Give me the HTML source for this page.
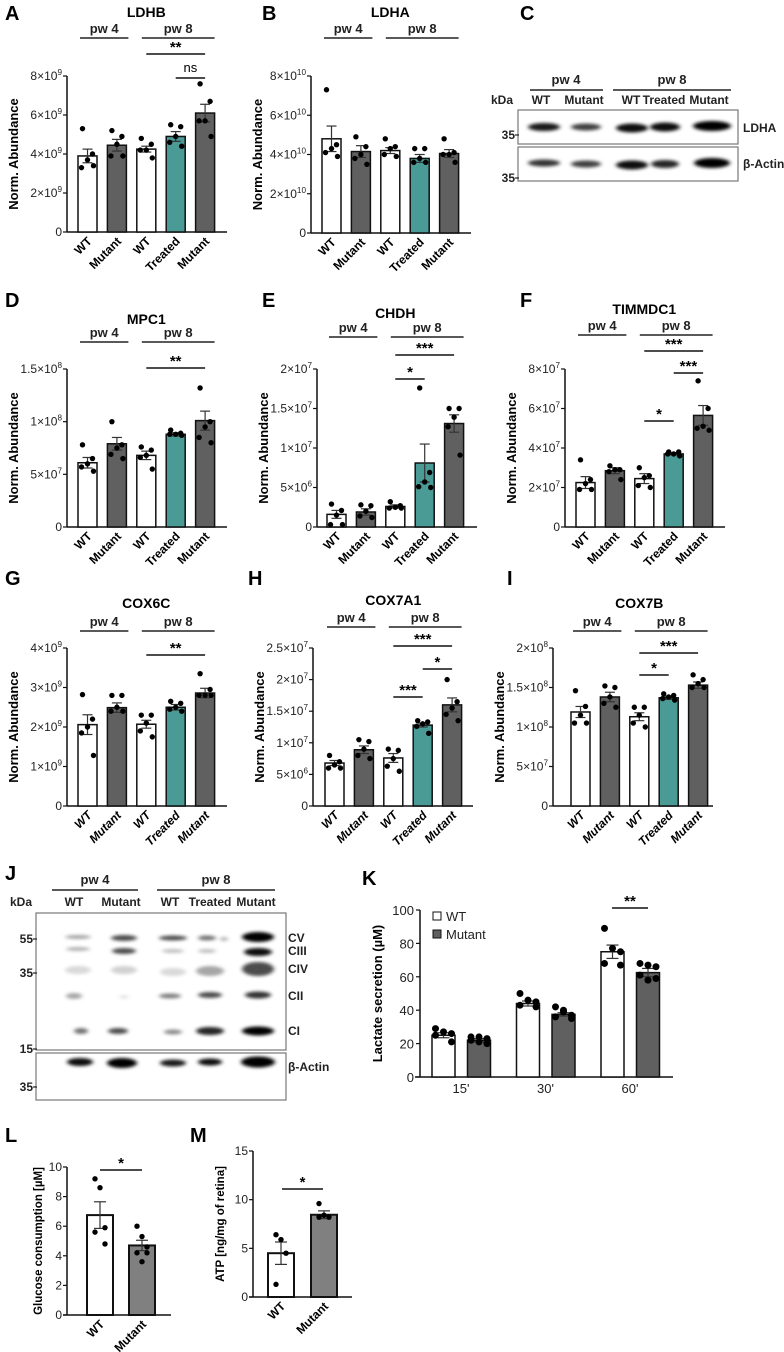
<!DOCTYPE html>
<html><head><meta charset="utf-8"><style>
html,body{margin:0;padding:0;background:#fff}
svg{display:block;font-family:"Liberation Sans",Arial,sans-serif}
</style></head><body>
<svg id="fig" width="784" height="1352" viewBox="0 0 784 1352" xmlns="http://www.w3.org/2000/svg">
<defs>
<filter id="blur1" x="-50%" y="-100%" width="200%" height="300%"><feGaussianBlur stdDeviation="2.2 1.6"/></filter>
</defs>
</svg>
<script>
// ---------- DATA ----------
const groupCats = ["WT","Mutant","WT","Treated","Mutant"];
const groupFills = ["#fff","#606060","#fff","#4a9a96","#606060"];

const meanA=[3.9,4.45,4.25,4.9,6.1], errA=[0.35,0.3,0.15,0.25,0.45];
const ptsA=[[5.3,4.0,3.7,3.3,3.4],[5.2,4.9,4.5,3.9,3.9],[4.8,4.5,4.2,4.2,3.8],[5.5,5.4,4.9,4.6,4.4],[7.6,6.7,5.7,5.7,4.9]];
const ticksA=[0,2,4,6,8], tickLabA=["0","2×10^9","4×10^9","6×10^9","8×10^9"];

const meanB=[4.8,4.15,4.2,3.8,4.05], errB=[0.65,0.3,0.15,0.2,0.2];
const ptsB=[[7.3,4.5,4.3,4.1,3.9],[4.9,4.4,4.0,3.8,3.5],[4.8,4.4,4.3,4.0,3.9],[4.3,4.3,3.8,3.6,3.6],[4.8,4.1,4.0,4.0,3.6]];
const ticksB=[0,2,4,6,8], tickLabB=["0","2×10^10","4×10^10","6×10^10","8×10^10"];

const meanD=[6.1,7.9,6.8,8.8,10.1], errD=[0.5,0.6,0.4,0.15,0.9];
const ptsD=[[7.8,6.5,6.0,5.7,5.3],[10.0,7.8,7.5,6.9,6.5],[7.6,7.3,6.8,6.6,5.5],[9.2,8.9,8.8,8.8,8.7],[13.2,10.0,9.5,8.5,8.0]];
const ticksD=[0,5,10,15], tickLabD=["0","5×10^7","1×10^8","1.5×10^8"];

const meanE=[1.6,1.9,2.6,8.1,13.1], errE=[0.5,0.4,0.2,2.4,1.1];
const ptsE=[[2.9,2.1,1.5,0.3,0.3],[2.8,2.7,2.0,1.4,1.2],[3.2,2.7,2.5,2.4,2.4],[17.6,6.9,5.7,5.1,5.0],[15.0,15.0,13.9,12.7,9.1]];
const ticksE=[0,5,10,15,20], tickLabE=["0","5×10^6","1×10^7","1.5×10^7","2×10^7"];

const meanF=[2.25,2.85,2.45,3.7,5.65], errF=[0.3,0.15,0.25,0.05,0.5];
const ptsF=[[3.4,2.4,2.2,1.9,1.9],[3.1,2.9,2.9,2.8,2.4],[3.0,2.6,2.5,2.1,2.0],[3.8,3.8,3.7,3.7,3.6],[7.4,6.0,5.1,5.0,4.9]];
const ticksF=[0,2,4,6,8], tickLabF=["0","2×10^7","4×10^7","6×10^7","8×10^7"];

const meanG=[2.06,2.49,2.07,2.5,2.86], errG=[0.25,0.12,0.1,0.07,0.12];
const ptsG=[[2.82,2.2,2.0,1.85,1.28],[2.8,2.8,2.5,2.4,2.4],[2.3,2.3,2.1,1.9,1.75],[2.65,2.6,2.5,2.45,2.4],[3.35,2.95,2.8,2.8,2.8]];
const ticksG=[0,1,2,3,4], tickLabG=["0","1×10^9","2×10^9","3×10^9","4×10^9"];

const meanH=[6.8,8.9,7.6,12.8,16.0], errH=[0.4,0.6,0.7,0.3,1.1];
const ptsH=[[8.0,7.0,6.5,6.0,6.0],[10.5,10.2,9.0,8.0,7.5],[9.0,8.8,7.5,6.3,5.5],[13.5,13.3,13.0,12.6,11.5],[20,16.5,15.5,14.5,13.5]];
const ticksH=[0,5,10,15,20,25], tickLabH=["0","5×10^6","1×10^7","1.5×10^7","2×10^7","2.5×10^7"];

const meanI=[11.9,13.8,11.3,13.7,15.3], errI=[0.7,0.6,0.5,0.2,0.4];
const ptsI=[[14.6,12.6,11.5,10.5,10.5],[15.2,15.0,13.8,13.0,12.5],[12.5,12.5,11.5,10.5,10.0],[14.2,14.0,13.8,13.6,13.4],[16.6,16.0,15.5,15.0,15.0]];
const ticksI=[0,5,10,15,20], tickLabI=["0","5×10^7","1×10^8","1.5×10^8","2×10^8"];

const kTimes=["15'","30'","60'"];
const kWT=[25,44,75], kWTerr=[1.5,1.5,4];
const kMut=[22,37.5,62.5], kMuterr=[1,1,2.5];
const kWTpts=[[29,27,26,25,21],[50,46,45,43,42],[89,77,75,68,67]];
const kMutpts=[[24,24,23,22,20,21],[42,40,37,36,35,39],[68,67,66,61,59,58]];
const kTicks=[0,20,40,60,80,100];

const lCats=["WT","Mutant"], lMean=[6.75,4.7], lErr=[0.9,0.35];
const lPts=[[9.2,8.6,5.9,5.6,4.8],[6.0,5.3,4.6,4.2,4.2,3.6]];
const lTicks=[0,2,4,6,8,10];
const mCats=["WT","Mutant"], mMean=[4.5,8.45], mErr=[1.15,0.4];
const mPts=[[6.4,5.9,4.5,1.3],[9.6,8.4,8.2,8.2]];
const mTicks=[0,5,10,15];

// ---------- HELPERS ----------
const svg=document.getElementById('fig');
const NS="http://www.w3.org/2000/svg";
function mk(tag,attrs,parent){const e=document.createElementNS(NS,tag);for(const k in attrs)e.setAttribute(k,attrs[k]);(parent||svg).appendChild(e);return e;}
function txt(s,x,y,attrs,parent){const e=mk('text',Object.assign({x:x,y:y},attrs||{}),parent);e.textContent=s;return e;}
function supText(s,x,y,size,parent){
  const e=mk('text',{x:x,y:y,'text-anchor':'end','font-size':size,fill:'#222'},parent);
  const parts=s.split('^');
  const t1=mk('tspan',{},e);t1.textContent=parts[0];
  if(parts[1]){const t2=mk('tspan',{dy:-5,'font-size':size*0.68},e);t2.textContent=parts[1];}
  return e;
}
const jit=[-5,5,0,-6,6,0];

function barPanel(c){
  const g=mk('g',{});
  
  
  const max=c.ticks[c.ticks.length-1];
  const Y=v=>c.y0-v/max*(c.y0-c.yTop);
  const step=29.4,bw=19;
  const X=i=>c.b0+i*step;
  const t=txt(c.title,X(2)+bw/2,c.titleY,{'text-anchor':'middle','font-weight':'bold','font-size':14},g);
  
  txt('pw 4',(X(0)+X(1)+bw+4)/2,c.lineY-5,{'text-anchor':'middle','font-size':13,'font-weight':'bold','fill':'#222'},g);
  txt('pw 8',(X(2)+5+X(4)+bw)/2,c.lineY-5,{'text-anchor':'middle','font-size':13,'font-weight':'bold','fill':'#222'},g);
  mk('line',{x1:X(0)+2,x2:X(1)+bw+2,y1:c.lineY,y2:c.lineY,stroke:'#222','stroke-width':1.5},g);
  mk('line',{x1:X(2)+5,x2:X(4)+bw,y1:c.lineY,y2:c.lineY,stroke:'#222','stroke-width':1.5},g);
  mk('line',{x1:c.ax,x2:c.ax,y1:c.yTop,y2:c.y0,stroke:'#111','stroke-width':1.5},g);
  mk('line',{x1:c.ax,x2:c.ax+160,y1:c.y0,y2:c.y0,stroke:'#111','stroke-width':1.5},g);
  c.ticks.forEach((tv,i)=>{
    mk('line',{x1:c.ax-4,x2:c.ax,y1:Y(tv),y2:Y(tv),stroke:'#111','stroke-width':1.2},g);
    const l=supText(c.tickLab[i],c.ax-5,Y(tv)+4,12,g);
    
  });
  const yl=txt('Norm. Abundance',0,0,{'text-anchor':'middle','font-weight':'bold','font-size':13,transform:`translate(${c.ax-49},${(c.y0+c.yTop)/2}) rotate(-90)`},g);
  
  c.mean.forEach((m,i)=>{
    const r=mk('rect',{x:X(i),y:Y(m),width:bw,height:c.y0-Y(m),fill:groupFills[i],stroke:'#111','stroke-width':1.5},g);
    
    
    const cx=X(i)+bw/2;
    mk('line',{x1:cx,x2:cx,y1:Y(m+c.err[i]),y2:Y(m-c.err[i]),stroke:'#333','stroke-width':1.2},g);
    mk('line',{x1:cx-5,x2:cx+5,y1:Y(m+c.err[i]),y2:Y(m+c.err[i]),stroke:'#333','stroke-width':1.2},g);
    mk('line',{x1:cx-5,x2:cx+5,y1:Y(m-c.err[i]),y2:Y(m-c.err[i]),stroke:'#333','stroke-width':1.2},g);
    c.pts[i].forEach((p,j)=>{
      const d=mk('circle',{cx:cx+jit[j],cy:Y(p),r:2.7,fill:'#000'},g);
      
      
    });
    const xl=txt(groupCats[i],0,0,{'text-anchor':'end','font-weight':'bold','font-size':12,'font-style':c.italic?'italic':'normal',transform:`translate(${cx+5},${c.y0+10}) rotate(-45)`},g);
    
  });
  (c.sig||[]).forEach(s=>{
    const x1=X(s[0])+bw/2,x2=X(s[1])+bw/2;
    mk('line',{x1:x1,x2:x2,y1:s[2],y2:s[2],stroke:'#111','stroke-width':1.5},g);
    txt(s[3],(x1+x2)/2,s[3]=='ns'?s[2]-6:s[2]-2,{'text-anchor':'middle','font-size':s[3]=='ns'?13:15,'font-weight':s[3]=='ns'?'normal':'bold'},g);
  });
  txt(c.letter,c.lx,c.ly,{'font-weight':'bold','font-size':20},g);
}

barPanel({name:'ldhb',letter:'A',lx:5,ly:20,title:'LDHB',titleY:17,lineY:38,ax:67,b0:78,y0:232,yTop:76,ticks:ticksA,tickLab:tickLabA,mean:meanA,err:errA,pts:ptsA,sig:[[2,4,54,'**'],[3,4,78,'ns']]});
barPanel({name:'ldha',letter:'B',lx:262,ly:20,title:'LDHA',titleY:17,lineY:38,ax:311,b0:322,y0:233,yTop:76,ticks:ticksB,tickLab:tickLabB,mean:meanB,err:errB,pts:ptsB});
barPanel({name:'mpc1',letter:'D',lx:5,ly:307,title:'MPC1',titleY:324,lineY:342,ax:67,b0:78,y0:527,yTop:369,ticks:ticksD,tickLab:tickLabD,mean:meanD,err:errD,pts:ptsD,sig:[[2,4,368,'**']]});
barPanel({name:'chdh',letter:'E',lx:262,ly:307,title:'CHDH',titleY:318,lineY:337,ax:317,b0:327,y0:527,yTop:369,ticks:ticksE,tickLab:tickLabE,mean:meanE,err:errE,pts:ptsE,sig:[[2,4,355,'***'],[2,3,379,'*']]});
barPanel({name:'timmdc1',letter:'F',lx:520,ly:307,title:'TIMMDC1',titleY:314,lineY:335,ax:565,b0:576,y0:527,yTop:369,ticks:ticksF,tickLab:tickLabF,mean:meanF,err:errF,pts:ptsF,sig:[[2,4,351,'***'],[3,4,373,'***'],[2,3,421,'*']]});
barPanel({name:'cox6c',letter:'G',lx:5,ly:585,title:'COX6C',titleY:608,lineY:631,ax:67,b0:78,y0:806,yTop:648,ticks:ticksG,tickLab:tickLabG,mean:meanG,err:errG,pts:ptsG,italic:true,sig:[[2,4,655,'**']]});
barPanel({name:'cox7a1',letter:'H',lx:248,ly:585,title:'COX7A1',titleY:605,lineY:627,ax:313,b0:325,y0:806,yTop:648,ticks:ticksH,tickLab:tickLabH,mean:meanH,err:errH,pts:ptsH,italic:true,sig:[[2,4,646,'***'],[3,4,669,'*'],[2,3,697,'***']]});
barPanel({name:'cox7b',letter:'I',lx:507,ly:585,title:'COX7B',titleY:608,lineY:631,ax:553,b0:571,y0:806,yTop:648,ticks:ticksI,tickLab:tickLabI,mean:meanI,err:errI,pts:ptsI,italic:true,sig:[[2,4,653,'***'],[2,3,675,'*']]});

// ---------- WESTERN BLOTS ----------
function blot(c){
  const g=mk('g',{});
  
  
  txt(c.letter,c.lx,c.ly,{'font-weight':'bold','font-size':20},g);
  txt('pw 4',c.pw4[2],c.pwY-6,{'text-anchor':'middle','font-size':13,'font-weight':'bold','fill':'#222'},g);
  txt('pw 8',c.pw8[2],c.pwY-6,{'text-anchor':'middle','font-size':13,'font-weight':'bold','fill':'#222'},g);
  mk('line',{x1:c.pw4[0],x2:c.pw4[1],y1:c.pwY,y2:c.pwY,stroke:'#222','stroke-width':1.5},g);
  mk('line',{x1:c.pw8[0],x2:c.pw8[1],y1:c.pwY,y2:c.pwY,stroke:'#222','stroke-width':1.5},g);
  txt('kDa',c.kx,c.laneY,{'font-size':12,'font-weight':'bold','fill':'#222'},g);
  c.lanes.forEach((l,i)=>txt(l,c.laneX[i],c.laneY,{'text-anchor':'middle','font-size':12,'font-weight':'bold','fill':'#222'},g));
  c.boxes.forEach(b=>mk('rect',{x:b[0],y:b[1],width:b[2],height:b[3],fill:'#fff',stroke:'#777','stroke-width':1.2},g));
  c.bands.forEach(b=>mk('ellipse',{cx:b[0],cy:b[1],rx:b[2],ry:b[3],fill:'#000','fill-opacity':b[4],filter:'url(#blur1)'},g));
  c.markers.forEach(m=>{txt(m[0],m[1]-3,m[2]+4,{'text-anchor':'end','font-size':12,'font-weight':'bold','fill':'#222'},g);mk('line',{x1:m[1]-3,x2:m[1]+1,y1:m[2],y2:m[2],stroke:'#222','stroke-width':1.2},g);});
  c.right.forEach(r=>txt(r[0],r[1],r[2],{'font-size':12,'font-weight':'bold','fill':'#222'},g));
}
blot({name:'ldha-western-blot',letter:'C',lx:520,ly:20,pwY:90,pw4:[530,603,566],pw8:[613,731,672],kx:491,laneY:104,
  lanes:['WT','Mutant','WT','Treated','Mutant'],laneX:[541,584,631,664,709],
  boxes:[[518,110,220,34],[518,147,220,34]],
  bands:[[544,127,16,4,0.9],[586,127,15,3.5,0.75],[632,128,16,4.5,0.95],[665,127,15,4.5,0.95],[712,126,19,5,1],
         [544,163,16,3.5,0.8],[586,164,15,3.5,0.75],[632,165,16,4.5,0.95],[665,164,14,4,0.85],[712,163,18,5,1]],
  markers:[['35',518,135],['35',518,178]],
  right:[['LDHA',743,132],['β-Actin',743,168]]});
blot({name:'oxphos-western-blot',letter:'J',lx:5,ly:880,pwY:890,pw4:[52,138,95],pw8:[157,275,216],kx:10,laneY:906,
  lanes:['WT','Mutant','WT','Treated','Mutant'],laneX:[74,121,170,210,256],
  boxes:[[36,913,250,137],[36,1053,250,47]],
  bands:[[78,937,13,2,0.35],[124,938,13,3,0.7],[173,938,14,2.5,0.7],[207,938,9,2.5,0.55],[224,939,4,2,0.3],[258,937,16,5,1],
         [78,949,12,2,0.3],[124,951,12,3,0.7],[173,951,11,2,0.25],[207,951,9,2,0.25],[258,952,14,4,0.95],
         [78,970,13,4,0.15],[124,970,13,4,0.18],[173,972,13,4,0.15],[210,971,14,5,0.35],[258,969,16,7,0.7],
         [74,996,8,3,0.35],[124,997,5,1.5,0.12],[170,996,11,2.5,0.5],[210,995,12,3,0.7],[258,995,13,3.5,0.8],
         [81,1031,7,3,0.55],[118,1031,10,3,0.7],[173,1032,9,2.5,0.45],[210,1031,14,4,0.85],[258,1031,16,4.5,1],
         [80,1062,13,4,0.95],[122,1063,15,5,1],[173,1063,13,3.5,0.9],[210,1062,12,3.5,0.95],[258,1062,17,5.5,1]],
  markers:[['55',36,939],['35',36,973],['15',36,1049],['35',36,1087]],
  right:[['CV',288,942],['CIII',288,955],['CIV',288,973],['CII',288,1000],['CI',288,1035],['β-Actin',288,1071]]});

// ---------- K ----------
(function(){
  const g=mk('g',{});
  
  
  const ax=420,y0=1077,yTop=910,max=100,bw=23;
  const Y=v=>y0-v/max*(y0-yTop);
  const gx=i=>432+i*84.5;
  txt('K',362,885,{'font-weight':'bold','font-size':20},g);
  mk('line',{x1:ax,x2:ax,y1:yTop,y2:y0,stroke:'#111','stroke-width':1.5},g);
  mk('line',{x1:ax-5,x2:673,y1:y0,y2:y0,stroke:'#111','stroke-width':1.5},g);
  kTicks.forEach(t=>{mk('line',{x1:ax-4,x2:ax,y1:Y(t),y2:Y(t),stroke:'#111','stroke-width':1.2},g);
    const l=txt(String(t),ax-6,Y(t)+5,{'text-anchor':'end','font-size':13,fill:'#222'},g);
    });
  const yl=txt('Lactate secretion (µM)',0,0,{'text-anchor':'middle','font-weight':'bold','font-size':13,transform:`translate(382,${(y0+yTop)/2}) rotate(-90)`},g);
  
  function bar(x,m,e,pts,fill,nm){
    const r=mk('rect',{x:x,y:Y(m),width:bw,height:y0-Y(m),fill:fill,stroke:'#111','stroke-width':1.5},g);
    
    
    const cx=x+bw/2;
    mk('line',{x1:cx,x2:cx,y1:Y(m+e),y2:Y(m-e),stroke:'#333','stroke-width':1.2},g);
    [m+e,m-e].forEach(v=>mk('line',{x1:cx-6,x2:cx+6,y1:Y(v),y2:Y(v),stroke:'#333','stroke-width':1.2},g));
    pts.forEach((p,j)=>{const d=mk('circle',{cx:cx+[-8,0,8,-8,8,0][j],cy:Y(p),r:3.5,fill:'#000'},g);
      
      });
  }
  kTimes.forEach((t,i)=>{
    bar(gx(i),kWT[i],kWTerr[i],kWTpts[i],'#fff','bar-wt-'+i);
    bar(gx(i)+35.5,kMut[i],kMuterr[i],kMutpts[i],'#606060','bar-mutant-'+i);
    const l=txt(t,gx(i)+29,y0+16,{'text-anchor':'middle','font-size':13,fill:'#222'},g);
    
  });
  mk('line',{x1:612,x2:648,y1:908,y2:908,stroke:'#111','stroke-width':1.5},g);
  txt('**',630,906,{'text-anchor':'middle','font-size':15,'font-weight':'bold'},g);
  const lg=mk('g',{},g);
  
  
  mk('rect',{x:433,y:912,width:8,height:8,fill:'#fff',stroke:'#111','stroke-width':1},lg);
  txt('WT',446,921,{'font-size':13,fill:'#222'},lg);
  mk('rect',{x:433,y:930,width:8,height:8,fill:'#606060',stroke:'#111','stroke-width':1},lg);
  txt('Mutant',446,939,{'font-size':13,fill:'#222'},lg);
})();

// ---------- L, M ----------
function twoBar(c){
  const g=mk('g',{});
  
  
  const max=c.ticks[c.ticks.length-1];
  const Y=v=>c.y0-v/max*(c.y0-c.yTop);
  txt(c.letter,c.lx,c.ly,{'font-weight':'bold','font-size':20},g);
  mk('line',{x1:c.ax,x2:c.ax,y1:c.yTop,y2:c.y0,stroke:'#111','stroke-width':1.5},g);
  mk('line',{x1:c.ax-4,x2:c.xEnd,y1:c.y0,y2:c.y0,stroke:'#111','stroke-width':1.5},g);
  c.ticks.forEach(t=>{mk('line',{x1:c.ax-4,x2:c.ax,y1:Y(t),y2:Y(t),stroke:'#111','stroke-width':1.2},g);
    const l=txt(String(t),c.ax-5,Y(t)+4,{'text-anchor':'end','font-size':12,fill:'#222'},g);
    });
  const yl=txt(c.ylab,0,0,{'text-anchor':'middle','font-weight':'bold','font-size':11.5,transform:`translate(${c.ylx},${(c.y0+c.yTop)/2}) rotate(-90)`},g);
  
  c.mean.forEach((m,i)=>{
    const x=c.bx[i],bw=26,cx=x+bw/2;
    const r=mk('rect',{x:x,y:Y(m),width:bw,height:c.y0-Y(m),fill:i?'#808080':'#fff',stroke:'#111','stroke-width':2},g);
    
    
    mk('line',{x1:cx,x2:cx,y1:Y(m+c.err[i]),y2:Y(m-c.err[i]),stroke:'#333','stroke-width':1.2},g);
    [m+c.err[i],m-c.err[i]].forEach(v=>mk('line',{x1:cx-6,x2:cx+6,y1:Y(v),y2:Y(v),stroke:'#333','stroke-width':1.2},g));
    c.pts[i].forEach((p,j)=>{const d=mk('circle',{cx:cx+[-5,0,5,-5,5,0][j],cy:Y(p),r:2.7,fill:'#000'},g);
      
      });
    const xl=txt(c.cats[i],0,0,{'text-anchor':'end','font-weight':'bold','font-size':12,transform:`translate(${cx+5},${c.y0+10}) rotate(-45)`},g);
    
  });
  mk('line',{x1:c.sig[0],x2:c.sig[1],y1:c.sig[2],y2:c.sig[2],stroke:'#111','stroke-width':1.5},g);
  txt('*',(c.sig[0]+c.sig[1])/2,c.sig[2]-2,{'text-anchor':'middle','font-size':15,'font-weight':'bold'},g);
}
twoBar({name:'glucose-consumption-chart',letter:'L',lx:5,ly:1142,ax:67,xEnd:171,y0:1315,yTop:1167,ticks:lTicks,cats:lCats,mean:lMean,err:lErr,pts:lPts,bx:[87,129],ylab:'Glucose consumption [µM]',ylx:42,sig:[100,142,1170]});
twoBar({name:'atp-chart',letter:'M',lx:190,ly:1142,ax:253,xEnd:352,y0:1297,yTop:1151,ticks:mTicks,cats:mCats,mean:mMean,err:mErr,pts:mPts,bx:[268,311],ylab:'ATP [ng/mg of retina]',ylx:224,sig:[282,323,1189]});
</script>
</body></html>
